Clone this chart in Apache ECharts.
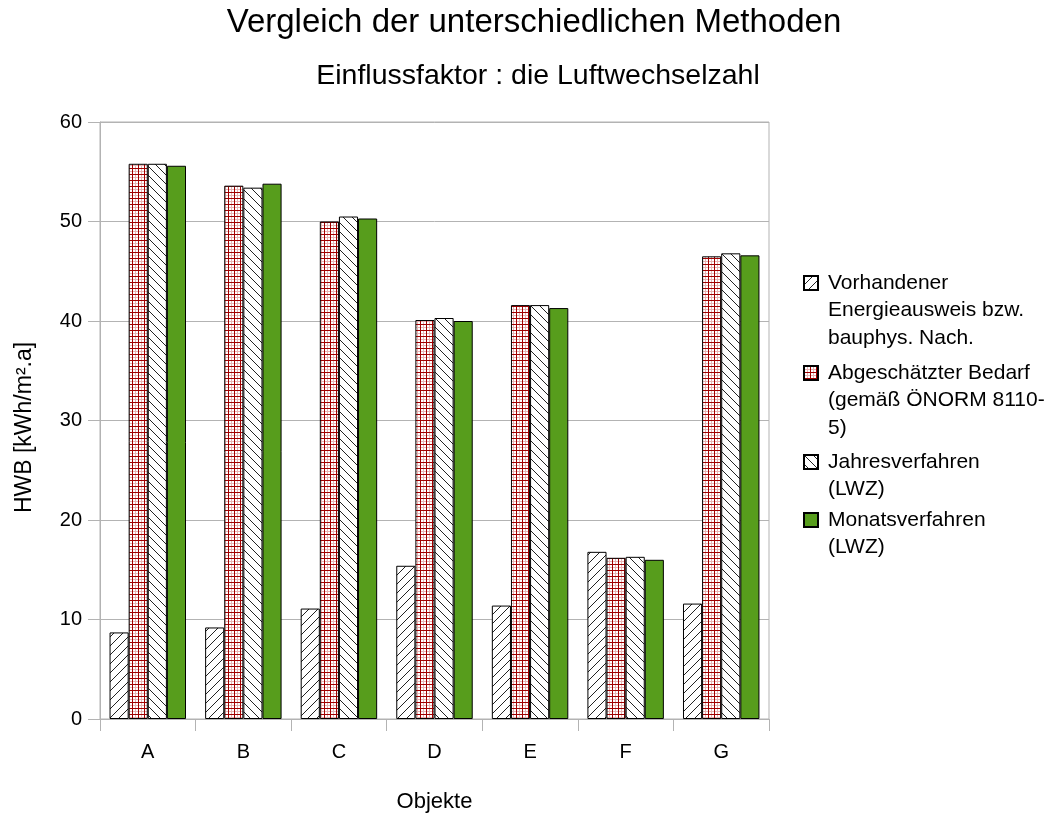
<!DOCTYPE html>
<html>
<head>
<meta charset="utf-8">
<script src="https://cdn.jsdelivr.net/npm/echarts@6/dist/echarts.min.js"></script>
<style>
html,body{margin:0;padding:0;background:#fff;}
#chart{width:1049px;height:814px;}
</style>
</head>
<body>
<div id="chart"></div>
<script>
var categories = ['A', 'B', 'C', 'D', 'E', 'F', 'G'];
var seriesNames = [
  'Vorhandener Energieausweis bzw. bauphys. Nach.',
  'Abgeschätzter Bedarf (gemäß ÖNORM 8110-5)',
  'Jahresverfahren (LWZ)',
  'Monatsverfahren (LWZ)'
];
var legendLines = [
  ['Vorhandener', 'Energieausweis bzw.', 'bauphys. Nach.'],
  ['Abgeschätzter Bedarf', '(gemäß ÖNORM 8110-', '5)'],
  ['Jahresverfahren', '(LWZ)'],
  ['Monatsverfahren', '(LWZ)']
];
var vorhanden = [8.7, 9.2, 11.1, 15.4, 11.4, 16.8, 11.6];
var abgeschaetzt = [55.8, 53.6, 50.0, 40.1, 41.6, 16.2, 46.5];
var jahres = [55.8, 53.4, 50.5, 40.3, 41.6, 16.3, 46.8];
var monats = [55.6, 53.8, 50.3, 40.0, 41.3, 16.0, 46.6];
var yTicks = [0, 10, 20, 30, 40, 50, 60];

function makeTile(size, draw) {
  var c = document.createElement('canvas');
  c.width = size; c.height = size;
  var ctx = c.getContext('2d');
  ctx.fillStyle = '#ffffff';
  ctx.fillRect(0, 0, size, size);
  draw(ctx, size);
  return c;
}
var hatchFwd = makeTile(9, function (ctx, s) {
  ctx.strokeStyle = '#222'; ctx.lineWidth = 1;
  ctx.beginPath();
  ctx.moveTo(-1, s + 1); ctx.lineTo(s + 1, -1);
  ctx.moveTo(-1, 1); ctx.lineTo(1, -1);
  ctx.moveTo(s - 1, s + 1); ctx.lineTo(s + 1, s - 1);
  ctx.stroke();
});
var hatchBack = makeTile(9, function (ctx, s) {
  ctx.strokeStyle = '#222'; ctx.lineWidth = 1;
  ctx.beginPath();
  ctx.moveTo(-1, -1); ctx.lineTo(s + 1, s + 1);
  ctx.moveTo(s - 1, -1); ctx.lineTo(s + 1, 1);
  ctx.moveTo(-1, s - 1); ctx.lineTo(1, s + 1);
  ctx.stroke();
});
var redGrid = makeTile(6, function (ctx, s) {
  ctx.fillStyle = '#e6b3b3';
  ctx.fillRect(3, 0, 1, s);
  ctx.fillRect(0, 3, s, 1);
  ctx.fillStyle = '#a00000';
  ctx.fillRect(0, 0, 1, s);
  ctx.fillRect(0, 0, s, 1);
});

var fills = [
  { image: hatchFwd, repeat: 'repeat' },
  { image: redGrid, repeat: 'repeat' },
  { image: hatchBack, repeat: 'repeat' },
  '#579d1c'
];
var values = [vorhanden, abgeschaetzt, jahres, monats];

var lineH = 27.5;
var firstLineCenters = [283, 373, 462, 520];
var legends = seriesNames.map(function (name, i) {
  var lines = legendLines[i];
  var blanks = lines.length - 1;
  var text = '';
  for (var k = 0; k < blanks; k++) text += ' \n';
  text += lines.join('\n');
  return {
    data: [{ name: name, icon: 'rect' }],
    orient: 'vertical',
    left: 803,
    top: firstLineCenters[i] - lineH * (blanks + 0.5),
    padding: 0,
    itemWidth: 14,
    itemHeight: 14,
    selectedMode: false,
    formatter: function () { return text; },
    textStyle: {
      fontFamily: 'Liberation Sans',
      fontSize: 21,
      lineHeight: lineH,
      color: '#000',
      padding: [0, 0, 0, 5]
    }
  };
});

var series = seriesNames.map(function (name, i) {
  return {
    name: name,
    type: 'bar',
    data: values[i],
    barGap: 0,
    barCategoryGap: '20%',
    itemStyle: {
      color: fills[i],
      borderColor: '#000',
      borderWidth: 1
    },
    emphasis: { disabled: true }
  };
});

var chart = echarts.init(document.getElementById('chart'), null, { renderer: 'canvas' });
chart.setOption({
  animation: false,
  backgroundColor: '#fff',
  textStyle: { fontFamily: 'Liberation Sans' },
  title: [
    {
      text: 'Vergleich der unterschiedlichen Methoden',
      left: 534, top: 6, textAlign: 'center', padding: 0,
      textStyle: { fontFamily: 'Liberation Sans', fontSize: 33, fontWeight: 'normal', color: '#000' }
    },
    {
      text: 'Einflussfaktor : die Luftwechselzahl',
      left: 538, top: 62, textAlign: 'center', padding: 0,
      textStyle: { fontFamily: 'Liberation Sans', fontSize: 28.5, fontWeight: 'normal', color: '#000' }
    }
  ],
  legend: legends,
  grid: {
    left: 100, right: 280, top: 122, bottom: 95, containLabel: false,
    outerBoundsMode: 'none',
    show: true, borderColor: '#b3b3b3', borderWidth: 1, backgroundColor: 'transparent'
  },
  xAxis: {
    type: 'category',
    data: categories,
    name: 'Objekte',
    nameLocation: 'middle',
    nameGap: 72,
    nameTextStyle: { fontFamily: 'Liberation Sans', fontSize: 22, color: '#000' },
    axisLine: { show: true, lineStyle: { color: '#b3b3b3', width: 1 } },
    axisTick: { show: true, length: 12, lineStyle: { color: '#b3b3b3' } },
    axisLabel: { fontFamily: 'Liberation Sans', fontSize: 20, color: '#000', margin: 23 },
    splitLine: { show: false }
  },
  yAxis: {
    type: 'value',
    min: 0, max: 60, interval: 10,
    name: 'HWB [kWh/m².a]',
    nameLocation: 'middle',
    nameGap: 64,
    nameRotate: 90,
    nameTextStyle: { fontFamily: 'Liberation Sans', fontSize: 23, color: '#000', padding: [0, 14, 0, 0] },
    axisLine: { show: true, lineStyle: { color: '#b3b3b3', width: 1 } },
    axisTick: { show: true, length: 12, lineStyle: { color: '#b3b3b3' } },
    axisLabel: {
      fontFamily: 'Liberation Sans', fontSize: 20, color: '#000', margin: 18,
      formatter: function (v) { return yTicks.indexOf(v) >= 0 ? String(v) : ''; }
    },
    splitLine: { show: true, lineStyle: { color: '#b3b3b3', width: 1 } }
  },
  series: series
});
</script>
</body>
</html>
